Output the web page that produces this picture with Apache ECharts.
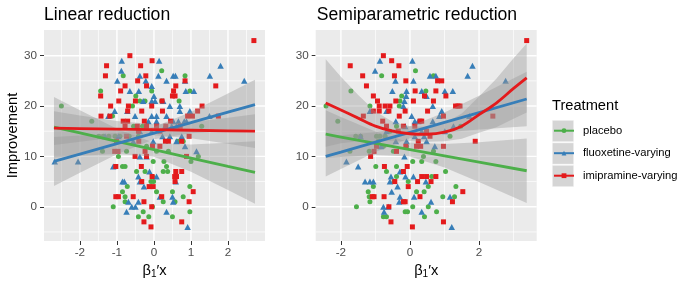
<!DOCTYPE html>
<html><head><meta charset="utf-8">
<script src="https://cdn.jsdelivr.net/npm/echarts@6/dist/echarts.min.js"></script>
<style>html,body{margin:0;padding:0;background:#fff}#c{width:688px;height:287px}</style>
</head><body><div id="c"></div>
<script>
// ---------------- DATA ----------------
const treatments = ['placebo', 'fluoxetine-varying', 'imipramine-varying'];
const panelTitles = ['Linear reduction', 'Semiparametric reduction'];
const yTicks = [0, 10, 20, 30];
const yMinor = [-5, 5, 15, 25];
const xTicksLinear = [-2, -1, 0, 1, 2];
const xMinorLinear = [-2.5, -1.5, -0.5, 0.5, 1.5, 2.5];
const xTicksSemi = [-2, 0, 2];
const xMinorSemi = [-1, 1, 3];

// points [beta1'x, Improvement]
const linPlacebo = [[-2.5,20],[-1.68,17],[-1.44,23],[-0.83,26],[0.21,27],[0.84,26],[-0.49,22],[-0.06,23],[0.97,23],[0.68,21],[-1.12,18],[-0.58,20],[-0.38,21],[-0.24,21],[0.21,21],[-0.55,16],[-0.31,16],[-1.49,14],[-1.37,14],[-1.22,14],[-1.05,14],[-0.92,14],[-0.67,14],[-0.42,14],[-1.39,11],[-0.96,10],[-0.74,11],[-0.2,12],[0.07,11],[0.39,11],[0.79,13],[1.29,16],[1.2,10],[1.0,9],[-0.47,7],[-0.24,7],[-0.85,8],[-0.78,8],[0.25,7],[0.37,7],[0.34,8],[-0.04,6],[-0.08,5],[-0.01,5],[-0.72,4],[-0.85,3],[-0.78,2],[-0.78,1],[0.07,3],[0.57,1],[0.5,3],[0.79,2],[0.97,4],[-1.1,0],[-0.29,-1],[-0.04,0],[-0.42,-2],[-0.14,-2],[0.5,-2],[0.97,-1],[0.25,1],[0.27,9],[-0.02,9],[0.64,13]];
const linFluox = [[-0.87,29],[0.14,29],[-0.88,27],[1.8,28],[1.51,26],[0.52,26],[0.58,26],[2.44,25],[-0.99,25],[-0.38,26],[0.12,26],[-0.65,23],[-0.41,23],[-0.22,25],[-0.06,24],[0.34,25],[0.84,25],[1.08,23],[0.86,23],[0.0,22],[0.03,21],[-1.06,19],[-0.72,19],[-0.06,21],[-0.29,21],[0.25,21],[0.43,20],[0.7,20],[0.97,19],[0.7,19],[1.5,18],[-1.23,18],[-0.51,18],[-0.06,18],[0.07,18],[0.34,18],[0.52,17],[0.66,17],[0.82,17],[0.88,17],[0.07,17],[-0.15,17],[0.3,16],[0.48,16],[0.61,16],[-1.32,14],[-0.96,14],[-0.38,15],[-0.06,15],[0.23,14],[0.43,14],[0.75,14],[-0.56,13],[-0.02,13],[0.61,13],[0.84,12],[1.15,11],[-2.68,9],[-2.05,9],[-1.1,8],[-0.38,10],[-0.2,10],[-0.85,5],[-0.8,5],[-0.42,6],[-0.12,7],[0.07,6],[-0.27,4],[-0.38,5],[0.59,5],[0.16,2],[0.5,2],[-0.69,1],[-0.42,1],[-0.6,0],[-0.5,0],[0.52,1],[-0.74,-1],[0.34,-1],[0.91,-4]];
const linImip = [[2.7,33],[-0.65,30],[-1.28,28],[-0.36,28],[-0.05,29],[-1.31,26],[-0.22,26],[-0.44,25],[0.84,25],[-0.78,24],[1.67,24],[-0.9,23],[-1.44,22],[-0.2,24],[-0.5,21],[-0.95,21],[0.57,22],[0.5,22],[0.22,21],[-1.17,20],[-0.06,20],[0.53,23],[0.59,24],[1.3,20],[-0.69,20],[-1.43,18],[-1.19,18],[-0.71,19],[-0.33,19],[0.23,19],[0.91,18],[1.18,19],[1.04,18],[1.74,18],[-0.83,17],[-0.71,17],[-0.26,17],[0.45,17],[-0.78,16],[-0.45,16],[-0.2,16],[0.07,16],[0.32,16],[0.71,16],[-0.42,15],[0.16,15],[0.95,14],[-0.74,14],[-1.01,13],[-0.41,13],[0.31,13],[0.39,13],[0.75,13],[-1.06,11],[-0.97,11],[-0.04,12],[0.16,12],[-0.24,11],[-0.51,10],[-0.2,10],[0.88,10],[-1.03,8],[-0.34,8],[-0.05,6],[0.59,7],[0.75,7],[0.56,6],[0.61,6],[-0.33,5],[0.57,5],[-0.13,4],[-0.02,4],[-0.56,2],[-1.03,2],[-0.96,2],[0.21,2],[1.06,3],[0.95,1],[-0.27,1],[-0.06,0],[-0.27,-3],[0.75,-3],[-0.08,-4]];

const semiPlacebo = [[-2.43,20],[-2.09,17],[-1.71,23],[-1.57,14],[-1.43,14],[-1.16,20],[-0.82,26],[0.16,27],[0.68,26],[-0.31,20],[-0.29,21],[-0.24,22],[0.46,23],[-0.39,16],[-0.58,15],[-0.97,14],[-0.87,14],[-0.72,14],[1.16,14],[1.47,16],[-0.92,13],[-1.18,11],[-1.74,11],[-0.48,11],[-0.77,12],[-0.1,12],[0.68,11],[0.39,10],[0.75,9],[0.08,9],[-0.99,8],[-0.68,7],[-0.39,8],[-0.05,5],[-0.39,6],[0.63,6],[1.03,7],[0.34,9],[-1.06,4],[-1.21,3],[-1.16,1],[-1.55,0],[0.19,3],[0.41,3],[0.95,2],[1.33,4],[1.29,2],[-0.77,-2],[-0.68,-2],[-0.14,-1],[-0.07,-1],[0.08,0],[0.42,-2],[0.77,-1],[-1.18,2],[0.53,0],[0.53,4],[-0.46,5]];
const semiFluox = [[-0.87,29],[0.07,29],[1.81,28],[1.67,26],[2.77,25],[-1.01,27],[0.58,26],[0.75,26],[-0.42,25],[0.1,25],[0.34,23],[-0.51,23],[1.24,23],[-0.1,23],[1.01,23],[-0.11,22],[-0.16,21],[-1.16,19],[-0.68,19],[-0.19,20],[0.48,22],[0.66,20],[0.92,19],[0.85,18],[0.05,18],[0.24,17],[-0.41,17],[0.66,17],[-1.43,14],[-0.14,16],[0.14,17],[-0.68,15],[0.34,15],[1.01,15],[1.26,16],[1.72,18],[0.41,14],[-0.41,13],[-0.1,13],[0.14,14],[0.48,13],[0.72,12],[-1.84,9],[-1.5,8],[-0.84,12],[-1.3,5],[-1.16,5],[-1.06,5],[-0.58,5],[-0.55,6],[-0.29,7],[-0.36,4],[-0.53,3],[0.12,2],[0.61,1],[1.16,2],[0.46,5],[-0.77,0],[-0.63,0],[-0.31,1],[-0.75,-1],[0.34,-1],[1.21,-4],[-0.29,2],[0.1,6],[-0.16,10],[-0.13,6]];
const semiImip = [[3.38,33],[-0.77,30],[-0.53,29],[-0.32,28],[-1.73,28],[-1.37,26],[-0.45,26],[-1.26,24],[-0.12,25],[0.8,25],[0.92,25],[0.75,23],[1.04,22],[0.42,22],[0.68,21],[-1.06,22],[-0.94,21],[-0.89,20],[-0.72,20],[-0.58,20],[-0.41,21],[0.1,21],[0.15,23],[-1.35,18],[-1.06,19],[-0.89,19],[-0.61,19],[-0.14,19],[0.51,19],[1.32,20],[1.45,20],[1.39,20],[2.4,18],[0.97,18],[-0.31,18],[-0.79,17],[-0.68,16],[0.34,17],[0.29,17],[-0.19,16],[0.14,16],[-0.34,15],[0.48,15],[0.58,14],[0.24,13],[1.89,13],[0.97,12],[-0.97,12],[0.19,12],[0.31,12],[-1.04,11],[-0.39,11],[-0.12,12],[-1.14,10],[-0.74,8],[-0.08,8],[-0.19,7],[0.34,6],[0.22,5],[0.48,6],[0.75,6],[0.61,5],[-0.44,5],[-0.05,4],[-1.09,2],[-1.04,2],[-0.75,2],[-0.19,1],[-0.14,1],[1.23,1],[1.53,3],[-0.55,-3],[0.97,-3],[0.07,-4],[-0.61,0],[0.29,2]];

// fitted curves and confidence bands, read at these x positions
const linX = [-2.7, -2, -1, 0, 1, 2, 2.73];
const linFitPlacebo = [15.8, 14.65, 12.99, 11.33, 9.67, 8.01, 6.81];
const linLoPlacebo  = [9.8, 10.15, 10.49, 9.93, 6.97, 3.31, 0.61];
const linHiPlacebo  = [21.8, 19.15, 15.49, 12.73, 12.37, 12.71, 13.01];
const linFitFluox = [9.0, 10.46, 12.54, 14.62, 16.70, 18.78, 20.3];
const linLoFluox  = [4.13, 6.76, 10.42, 13.42, 14.58, 15.08, 15.4];
const linHiFluox  = [13.87, 14.16, 14.66, 15.82, 18.82, 22.48, 25.2];
const linFitImip = [15.6, 15.52, 15.41, 15.3, 15.19, 15.08, 15.0];
const linLoImip  = [12.24, 12.93, 13.8, 14.2, 13.58, 12.49, 11.65];
const linHiImip  = [18.96, 18.11, 17.02, 16.4, 16.8, 17.67, 18.35];

const semiX = [-2.44, -2, -1, 0, 1, 2, 3.38];
const semiFitPlacebo = [14.4, 13.85, 12.61, 11.36, 10.12, 8.87, 7.15];
const semiLoPlacebo  = [9.66, 9.89, 10.29, 9.96, 7.8, 4.91, 0.75];
const semiHiPlacebo  = [19.14, 17.81, 14.93, 12.76, 12.44, 12.83, 13.55];
const semiFitFluox = [10.0, 10.86, 12.82, 14.78, 16.74, 18.70, 21.4];
const semiLoFluox  = [6.0, 7.52, 10.85, 13.58, 14.77, 15.36, 16.0];
const semiHiFluox  = [14.0, 14.2, 14.79, 15.98, 18.71, 22.04, 26.8];
const semiXImip = [-2.44, -2, -1.5, -1, -0.5, 0, 0.5, 1, 1.5, 2, 2.5, 3, 3.38];
const semiFitImip = [20.6, 19.2, 17.6, 16.0, 15.0, 14.5, 14.4, 14.8, 16.0, 18.3, 20.6, 23.5, 25.6];
const semiLoImip  = [11.9, 12.6, 13.0, 13.1, 13.1, 13.0, 12.9, 13.0, 13.5, 14.7, 15.8, 17.5, 18.7];
const semiHiImip  = [29.3, 25.8, 22.2, 18.9, 16.9, 16.0, 15.9, 16.6, 18.5, 21.9, 25.4, 29.5, 32.4];

// ---------------- CHART ----------------
const FONT = 'Liberation Sans, Arial, Helvetica, sans-serif';
const colors = ['#4DAF4A', '#377EB8', '#E41A1C'];
const symbols = ['circle', 'triangle', 'rect'];
const symSizes = [5, [6.5, 6], 5];

const grids = [
  {left: 44, top: 30, width: 221, height: 211},
  {left: 315.7, top: 30, width: 221, height: 211}
];
const xRanges = [[-2.97, 3.0], [-2.73, 3.67]];
const yRange = [-6.8, 35.1];

function mainAxis(gi, min, max, ticks, extra) {
  return Object.assign({
    type: 'value', gridIndex: gi, min: min, max: max,
    axisLine: {show: false, onZero: false},
    axisTick: {show: true, customValues: ticks, length: 4, lineStyle: {color: '#333333', width: 1}},
    axisLabel: {customValues: ticks, color: '#4D4D4D', fontSize: 11.7, fontFamily: FONT},
    splitLine: {show: false},
    minorTick: {show: false}, minorSplitLine: {show: false}
  }, extra || {});
}
const xName = '{b|β}{s|1}{b|′x}';
const xNameStyle = {color: '#000', fontFamily: FONT, fontSize: 14.67,
  rich: {b: {fontSize: 14.67, fontFamily: FONT, color: '#000'},
         s: {fontSize: 10, fontFamily: FONT, color: '#000', padding: [7, 0, 0, 0]}}};

const xAxes = [
  mainAxis(0, xRanges[0][0], xRanges[0][1], xTicksLinear, {position: 'bottom', name: xName, nameLocation: 'middle', nameGap: 19, nameTextStyle: xNameStyle}),
  mainAxis(1, xRanges[1][0], xRanges[1][1], xTicksSemi, {position: 'bottom', name: xName, nameLocation: 'middle', nameGap: 19, nameTextStyle: xNameStyle})
];
xAxes[0].axisLabel.margin = 5.5; xAxes[1].axisLabel.margin = 5.5;
const yAxes = [
  mainAxis(0, yRange[0], yRange[1], yTicks, {position: 'left', name: 'Improvement', nameLocation: 'middle', nameGap: 23, nameRotate: 90,
    nameTextStyle: {color: '#000', fontFamily: FONT, fontSize: 14.67}}),
  mainAxis(1, yRange[0], yRange[1], yTicks, {position: 'left'})
];
yAxes[0].axisLabel.margin = 7; yAxes[1].axisLabel.margin = 7;

// panel background + grid lines, placed through the axes' own scales
function panel(gi, xMajor, xMinor) {
  const xr = xRanges[gi];
  const lines = [];
  yMinor.forEach(v => lines.push([v, 0, 0]));
  xMinor.forEach(v => lines.push([v, 1, 0]));
  yTicks.forEach(v => lines.push([v, 0, 1]));
  xMajor.forEach(v => lines.push([v, 1, 1]));
  return {
    type: 'custom', name: 'panel-' + gi, xAxisIndex: gi, yAxisIndex: gi, z: 1, silent: true, clip: false, animation: false,
    data: [[xr[0], yRange[0]]],
    renderItem: function (params, api) {
      const tl = api.coord([xr[0], yRange[1]]);
      const br = api.coord([xr[1], yRange[0]]);
      const children = [{type: 'rect', shape: {x: tl[0], y: tl[1], width: br[0] - tl[0], height: br[1] - tl[1]},
        style: {fill: '#EBEBEB'}}];
      lines.forEach(r => {
        const p1 = r[1] ? api.coord([r[0], yRange[0]]) : api.coord([xr[0], r[0]]);
        const p2 = r[1] ? api.coord([r[0], yRange[1]]) : api.coord([xr[1], r[0]]);
        children.push({type: 'line', shape: {x1: p1[0], y1: p1[1], x2: p2[0], y2: p2[1]},
          style: {stroke: '#FFFFFF', lineWidth: r[2] ? 1.4 : 0.7}});
      });
      return {type: 'group', children: children};
    }
  };
}
function fitLine(k, gi, xs, ys, smooth) {
  return {
    type: 'line', name: treatments[k], xAxisIndex: gi, yAxisIndex: gi,
    data: xs.map((x, i) => [x, ys[i]]),
    symbol: symbols[k], symbolSize: 5, showSymbol: false, smooth: smooth ? 0.35 : false,
    z: 5, silent: true, clip: true, animation: false,
    lineStyle: {color: colors[k], width: 2.8}, itemStyle: {color: colors[k]}
  };
}
function points(k, gi, pts) {
  return {
    type: 'scatter', name: treatments[k], xAxisIndex: gi, yAxisIndex: gi,
    data: pts, symbol: symbols[k], symbolSize: symSizes[k], z: 2, silent: true, animation: false,
    itemStyle: {color: colors[k], opacity: 1}
  };
}
function band(k, gi, xs, lo, hi) {
  const rows = xs.map((x, i) => [x, lo[i], hi[i]]);
  return {
    type: 'custom', name: 'band-' + gi + '-' + k, xAxisIndex: gi, yAxisIndex: gi,
    data: rows, encode: {x: 0, y: [1, 2]}, z: 3, silent: true, clip: true, animation: false,
    renderItem: function (params, api) {
      if (params.dataIndex !== 0) return null;
      const pts = [];
      for (let i = 0; i < rows.length; i++) pts.push(api.coord([rows[i][0], rows[i][2]]));
      for (let i = rows.length - 1; i >= 0; i--) pts.push(api.coord([rows[i][0], rows[i][1]]));
      return {type: 'polygon', shape: {points: pts}, style: {fill: 'rgba(153,153,153,0.4)'}};
    }
  };
}

const series = [
  fitLine(0, 0, linX, linFitPlacebo), fitLine(1, 0, linX, linFitFluox), fitLine(2, 0, linX, linFitImip),
  fitLine(0, 1, semiX, semiFitPlacebo), fitLine(1, 1, semiX, semiFitFluox), fitLine(2, 1, semiXImip, semiFitImip, true),
  panel(0, xTicksLinear, xMinorLinear), panel(1, xTicksSemi, xMinorSemi),
  points(0, 0, linPlacebo), points(1, 0, linFluox), points(2, 0, linImip),
  points(0, 1, semiPlacebo), points(1, 1, semiFluox), points(2, 1, semiImip),
  band(0, 0, linX, linLoPlacebo, linHiPlacebo), band(1, 0, linX, linLoFluox, linHiFluox), band(2, 0, linX, linLoImip, linHiImip),
  band(0, 1, semiX, semiLoPlacebo, semiHiPlacebo), band(1, 1, semiX, semiLoFluox, semiHiFluox), band(2, 1, semiXImip, semiLoImip, semiHiImip)
];

const keyTops = [120, 142.5, 165];
const graphics = [
  {type: 'text', left: 44, top: 6, z: 10, style: {text: panelTitles[0], font: '17.6px ' + FONT, fill: '#000'}},
  {type: 'text', left: 316.7, top: 6, z: 10, style: {text: panelTitles[1], font: '17.6px ' + FONT, fill: '#000'}},
  {type: 'text', left: 552, top: 98, z: 10, style: {text: 'Treatment', font: '14.67px ' + FONT, fill: '#000'}}
];
keyTops.forEach(t => graphics.push({type: 'rect', left: 552, top: t, z: -10, silent: true,
  shape: {width: 21.5, height: 21.5}, style: {fill: '#D5D5D5', stroke: '#FFFFFF', lineWidth: 0.5}}));

const option = {
  animation: false,
  backgroundColor: '#FFFFFF',
  grid: grids.map(g => Object.assign({show: false, containLabel: false}, g)),
  xAxis: xAxes,
  yAxis: yAxes,
  legend: {
    data: treatments, orient: 'vertical', left: 553, top: 123.7, z: 4,
    itemWidth: 20, itemHeight: 6, itemGap: 8.5, selectedMode: false, padding: 0,
    textStyle: {fontSize: 11.2, fontFamily: FONT, color: '#000', lineHeight: 14, padding: [0, 0, 0, 4]}
  },
  graphic: {elements: graphics},
  series: series
};
const chart = echarts.init(document.getElementById('c'), null, {renderer: 'canvas'});
chart.setOption(option);
</script></body></html>
